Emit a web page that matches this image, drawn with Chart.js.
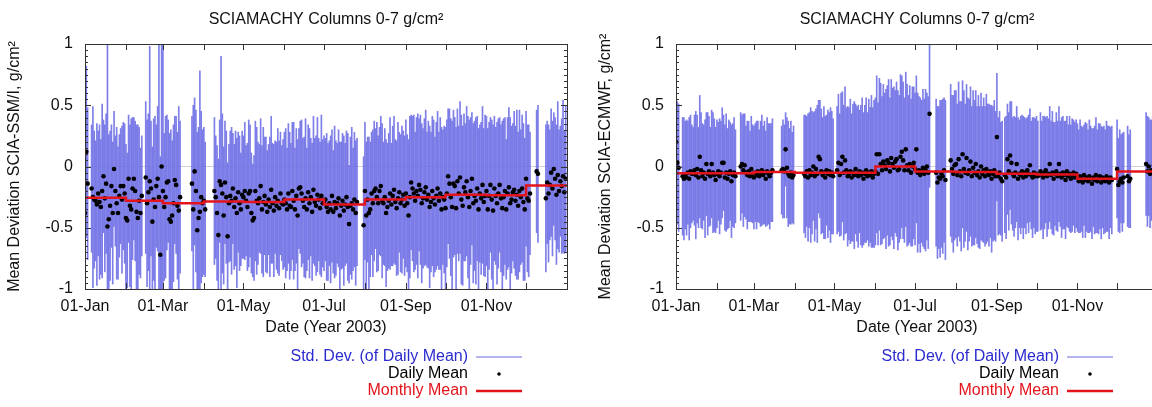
<!DOCTYPE html>
<html>
<head>
<meta charset="utf-8">
<script src="https://cdn.jsdelivr.net/npm/chart.js@4.4.1/dist/chart.umd.min.js"></script>
<style>
  html, body { margin: 0; padding: 0; background: #fff; overflow: hidden; }
  #wrap { position: relative; width: 1152px; height: 407px; overflow: hidden; }
  canvas { position: absolute; top: 0; }
  #left { left: 0; }
  #right { left: 591px; }
</style>
</head>
<body>
<div id="wrap">
  <canvas id="left" width="576" height="407"></canvas>
  <canvas id="right" width="576" height="407"></canvas>
</div>
<script>
// day-of-year (2003) where each month starts, and the labels shown under them
const monthStarts = [0, 31, 59, 90, 120, 151, 181, 212, 243, 273, 304, 334, 365];
const monthLabels = ['01-Jan', '', '01-Mar', '', '01-May', '', '01-Jul', '', '01-Sep', '', '01-Nov', '', ''];
const yTicks = [-1, -0.5, 0, 0.5, 1];

// SCIA - SSM/I, daily mean and std. dev. (one value per day, null = no data)
const meanSSMI = [
  -0.38, 0.12, -0.14, null, null, -0.18, -0.25, -0.27, -0.28, -0.31, -0.22, -0.29, -0.33, -0.2, -0.08, -0.26, -0.14, -0.49, -0.43, -0.32, -0.16, -0.38, -0.02, -0.2, -0.3, -0.38, -0.24, -0.16, -0.27, -0.16, -0.22,
  -0.42, -0.44, -0.1, -0.32, -0.35, -0.18, -0.1, -0.2, -0.37, -0.42, -0.28, -0.38, -0.24, null, null, -0.09, -0.3, -0.21, -0.12, -0.18, -0.45, -0.27, -0.33, -0.16, -0.1, -0.25, -0.72, 0.0,
  -0.2, -0.33, -0.25, -0.13, -0.12, -0.43, -0.45, -0.4, -0.3, -0.11, -0.15, -0.32, -0.36, -0.25, null, null, null, null, null, null, null, null, -0.14, -0.35, -0.04, -0.2, -0.52, -0.42, -0.37, -0.25, -0.3,
  -0.28, -0.35, null, null, null, null, null, null, -0.2, -0.25, -0.38, -0.56, -0.12, -0.15, -0.22, -0.4, -0.13, -0.25, -0.57, -0.3, -0.24, -0.28, -0.18, -0.33, -0.26, -0.38, -0.21, -0.3, -0.35, -0.23,
  -0.25, -0.2, -0.28, -0.33, -0.22, -0.2, -0.38, -0.44, -0.42, -0.2, -0.28, -0.3, -0.26, -0.16, -0.35, -0.29, -0.24, -0.31, -0.37, -0.27, -0.33, -0.19, -0.3, -0.36, -0.25, -0.32, -0.28, -0.34, -0.22, -0.3, -0.31,
  -0.27, -0.3, -0.35, -0.22, -0.32, -0.33, -0.2, -0.28, -0.35, -0.24, -0.4, -0.18, -0.17, -0.22, -0.28, -0.33, -0.26, -0.35, -0.21, -0.3, -0.25, -0.37, -0.19, -0.29, -0.32, -0.23, -0.27, -0.34, -0.24, -0.3,
  -0.3, -0.27, -0.33, -0.37, -0.3, -0.35, -0.24, -0.37, -0.29, -0.34, -0.3, -0.26, -0.4, -0.32, -0.28, -0.36, -0.31, -0.25, -0.33, -0.47, -0.32, -0.3, -0.35, -0.27, -0.38, -0.29, null, null, null, null, -0.48,
  -0.2, -0.4, -0.27, -0.38, -0.35, -0.22, -0.3, -0.2, -0.18, -0.25, -0.3, -0.2, -0.16, -0.28, -0.3, -0.25, -0.38, -0.33, -0.28, -0.22, -0.31, -0.24, -0.19, -0.29, -0.34, -0.26, -0.21, -0.3, -0.27, -0.23, -0.32,
  -0.22, -0.3, -0.4, -0.25, -0.13, -0.18, -0.22, -0.28, -0.2, -0.24, -0.15, -0.19, -0.3, -0.26, -0.21, -0.17, -0.27, -0.23, -0.33, -0.29, -0.2, -0.26, -0.31, -0.24, -0.18, -0.28, -0.22, -0.35, -0.25, -0.27,
  -0.34, -0.22, -0.08, -0.14, -0.25, -0.33, -0.14, -0.16, -0.34, -0.12, -0.22, -0.09, -0.27, -0.32, -0.17, -0.21, -0.12, -0.25, -0.33, -0.2, -0.1, -0.3, -0.24, -0.28, -0.18, -0.35, -0.22, -0.26, -0.15, -0.29, -0.24,
  -0.2, -0.35, -0.24, -0.15, -0.27, -0.36, -0.18, -0.24, -0.3, -0.22, -0.15, -0.26, -0.34, -0.25, -0.2, -0.35, -0.22, -0.17, -0.3, -0.27, -0.21, -0.19, -0.28, -0.23, -0.32, -0.2, -0.25, -0.18, -0.29, -0.35,
  -0.1, -0.26, -0.28, -0.22, null, null, null, null, -0.04, -0.06, null, null, null, null, null, -0.26, -0.13, -0.22, -0.15, -0.05, -0.18, -0.02, -0.1, -0.23, -0.07, -0.2, -0.12, -0.16, -0.08, -0.21, -0.1
];
const sdSSMI = [
  0.95, 0.7, 0.62, null, null, 0.52, 0.74, 0.56, 0.49, 0.66, 0.51, 0.63, 0.55, 0.71, 0.46, 0.6, 0.57, 1.5, 0.69, 0.61, 0.5, 0.58, 0.47, 0.45, 0.62, 0.54, 0.5, 0.47, 0.6, 0.52, 0.57,
  0.6, 0.55, 0.52, 0.66, 0.74, 0.58, 0.5, 0.57, 0.71, 0.76, 0.6, 0.53, 0.49, null, null, 0.62, 0.68, 0.64, 1.1, 0.55, 0.61, 0.66, 0.74, 0.5, 0.59, 1.3, 0.8, 1.0,
  1.3, 0.6, 0.66, 0.55, 0.5, 0.7, 0.75, 0.61, 0.64, 0.52, 0.56, 0.6, 0.85, 0.62, null, null, null, null, null, null, null, null, 0.55, 0.85, 0.6, 0.66, 0.8, 0.74, 1.15, 0.7, 0.6,
  0.6, 0.55, null, null, null, null, null, null, 0.6, 0.5, 0.55, 0.62, 0.5, 1.05, 0.65, 0.56, 0.5, 0.54, 0.6, 0.48, 0.53, 0.6, 0.45, 0.51, 0.55, 0.61, 0.49, 0.55, 0.46, 0.52,
  0.5, 0.56, 0.45, 0.52, 0.6, 0.54, 0.49, 0.46, 0.51, 0.57, 0.6, 0.5, 0.44, 0.55, 0.52, 0.61, 0.48, 0.55, 0.5, 0.45, 0.57, 0.6, 0.49, 0.54, 0.46, 0.52, 0.59, 0.55, 0.5, 0.47, 0.53,
  0.55, 0.61, 0.5, 0.57, 0.6, 0.52, 0.56, 0.64, 0.5, 0.55, 0.62, 0.49, 0.54, 0.6, 0.51, 0.57, 0.65, 0.5, 0.55, 0.61, 0.48, 0.56, 0.6, 0.52, 0.57, 0.63, 0.5, 0.54, 0.66, 0.52,
  0.55, 0.5, 0.6, 0.56, 0.51, 0.6, 0.54, 0.5, 0.62, 0.55, 0.49, 0.56, 0.6, 0.52, 0.55, 0.61, 0.5, 0.54, 0.6, 0.48, 0.56, 0.62, 0.5, 0.55, 0.59, 0.52, null, null, null, null, 0.56,
  0.56, 0.6, 0.51, 0.62, 0.55, 0.5, 0.6, 0.57, 0.49, 0.61, 0.55, 0.52, 0.57, 0.63, 0.5, 0.56, 0.6, 0.52, 0.55, 0.62, 0.5, 0.57, 0.6, 0.51, 0.55, 0.62, 0.49, 0.56, 0.6, 0.52, 0.57,
  0.6, 0.56, 0.62, 0.66, 0.55, 0.59, 0.64, 0.56, 0.6, 0.67, 0.54, 0.61, 0.65, 0.57, 0.6, 0.63, 0.55, 0.6, 0.66, 0.57, 0.61, 0.64, 0.55, 0.6, 0.63, 0.56, 0.62, 0.67, 0.55, 0.6,
  0.66, 0.6, 0.55, 0.61, 0.64, 0.7, 0.6, 0.56, 0.66, 0.59, 0.55, 0.62, 0.69, 0.65, 0.6, 0.56, 0.61, 0.66, 0.71, 0.6, 0.54, 0.65, 0.61, 0.68, 0.59, 0.66, 0.56, 0.62, 0.64, 0.6, 0.66,
  0.61, 0.66, 0.6, 0.55, 0.65, 0.7, 0.59, 0.56, 0.66, 0.61, 0.55, 0.6, 0.71, 0.64, 0.6, 0.57, 0.62, 0.65, 0.7, 0.6, 0.56, 0.64, 0.61, 0.69, 0.6, 0.66, 0.55, 0.6, 0.64, 0.58,
  0.55, 0.6, 0.62, 0.5, null, null, null, null, 0.5, 0.56, null, null, null, null, null, 0.6, 0.5, 0.56, 0.45, 0.52, 0.55, 0.46, 0.5, 0.57, 0.6, 0.5, 0.45, 0.55, 0.62, 0.5, 0.6
];
const monthlySSMI = [-0.255, -0.28, -0.3, -0.285, -0.29, -0.27, -0.31, -0.27, -0.25, -0.23, -0.235, -0.155];

// SCIA - ECMWF, daily mean and std. dev.
const meanECMWF = [
  0.2, 0.03, -0.01, null, null, -0.08, -0.1, -0.07, -0.09, -0.05, -0.1, -0.04, -0.06, -0.06, -0.03, -0.07, -0.02, -0.09, 0.08, -0.03, -0.08, -0.05, -0.1, 0.02, -0.06, -0.04, -0.08, 0.02, -0.05, -0.07, -0.11,
  -0.06, -0.04, -0.08, -0.05, 0.03, 0.03, -0.09, -0.05, -0.1, -0.06, -0.04, -0.12, -0.07, -0.05, -0.08, null, null, null, 0.0, 0.02, -0.03, 0.01, -0.05, -0.07, -0.04, -0.08, -0.02, -0.06,
  -0.09, -0.05, -0.07, -0.04, -0.08, -0.06, -0.03, -0.07, -0.05, -0.1, -0.04, -0.06, -0.08, -0.05, -0.03, null, null, null, null, null, null, -0.03, -0.02, -0.04, 0.14, -0.01, -0.06, -0.08, -0.05, -0.09, -0.07,
  null, null, null, null, null, null, null, -0.06, -0.08, -0.04, -0.09, -0.03, -0.07, -0.05, 0.0, -0.08, -0.02, -0.06, 0.08, 0.06, -0.04, -0.07, -0.05, -0.09, -0.03, -0.06, -0.04, -0.07, -0.05, -0.08,
  null, null, -0.03, 0.03, -0.07, 0.02, 0.08, -0.05, 0.05, -0.03, -0.08, -0.06, -0.04, -0.09, -0.05, -0.07, -0.02, -0.06, -0.08, -0.04, -0.07, -0.05, -0.1, -0.06, -0.03, -0.08, -0.05, -0.07, -0.04, -0.09, -0.06,
  -0.04, 0.1, -0.06, 0.1, 0.02, -0.03, 0.04, 0.01, -0.02, 0.05, 0.03, -0.04, 0.07, 0.02, -0.01, 0.04, 0.06, -0.03, -0.02, 0.08, 0.12, 0.05, -0.03, 0.14, 0.01, -0.03, 0.02, -0.05, 0.0, 0.03,
  -0.02, 0.14, -0.05, -0.03, -0.07, -0.04, -0.01, -0.06, -0.03, 0.0, -0.05, 0.43, null, null, null, null, -0.05, -0.13, -0.09, -0.1, -0.06, -0.08, -0.03, -0.11, null, null, null, 0.05, -0.02, -0.06, 0.01,
  0.02, -0.07, 0.06, -0.04, -0.08, 0.1, -0.02, -0.05, 0.07, -0.06, -0.03, 0.04, -0.08, -0.01, -0.05, 0.02, -0.07, -0.04, -0.09, 0.0, -0.06, -0.03, -0.08, -0.02, -0.05, -0.07, -0.04, -0.1, -0.06, -0.03, -0.08,
  0.24, -0.08, -0.05, -0.1, -0.12, null, -0.07, -0.09, 0.06, -0.04, 0.09, 0.03, -0.06, -0.08, -0.05, 0.02, -0.1, -0.06, -0.07, -0.04, -0.09, -0.05, -0.08, -0.03, -0.06, 0.01, -0.07, -0.09, -0.05, -0.08,
  -0.06, -0.08, null, -0.04, -0.07, -0.09, -0.05, -0.03, -0.08, -0.06, 0.02, -0.07, -0.05, -0.1, -0.06, -0.04, -0.08, 0.02, -0.06, -0.09, -0.05, -0.07, -0.11, -0.04, -0.08, -0.06, -0.1, -0.07, -0.05, -0.09, -0.06,
  -0.09, -0.12, -0.08, -0.1, -0.13, -0.07, -0.11, -0.09, -0.12, -0.08, -0.1, -0.14, -0.09, -0.11, -0.07, -0.12, -0.1, -0.08, -0.13, -0.09, -0.11, -0.12, -0.08, -0.1, -0.13, -0.09, -0.11, null, null, null,
  -0.02, -0.15, -0.12, -0.1, -0.13, -0.09, null, null, -0.08, -0.12, -0.1, null, null, null, null, null, null, null, null, null, null, null, 0.02, -0.04, 0.0, -0.06, -0.03, -0.05, 0.01, -0.04, -0.02
];
const sdECMWF = [
  0.3, 0.5, 0.52, null, null, 0.48, 0.5, 0.44, 0.47, 0.42, 0.5, 0.46, 0.4, 0.38, 0.45, 0.52, 0.44, 0.41, 0.5, 0.47, 0.43, 0.39, 0.48, 0.42, 0.5, 0.45, 0.4, 0.44, 0.49, 0.46, 0.43,
  0.44, 0.4, 0.47, 0.42, 0.45, 0.39, 0.43, 0.48, 0.41, 0.44, 0.4, 0.46, 0.42, 0.45, 0.38, null, null, null, 0.44, 0.4, 0.46, 0.42, 0.38, 0.44, 0.41, 0.37, 0.43, 0.4,
  0.42, 0.4, 0.44, 0.41, 0.38, 0.43, 0.45, 0.4, 0.42, 0.39, 0.44, 0.41, 0.43, 0.4, 0.42, null, null, null, null, null, null, 0.36, 0.4, 0.38, 0.3, 0.41, 0.43, 0.39, 0.42, 0.37, 0.4,
  null, null, null, null, null, null, null, 0.48, 0.5, 0.45, 0.52, 0.47, 0.55, 0.5, 0.44, 0.53, 0.49, 0.56, 0.46, 0.48, 0.51, 0.47, 0.54, 0.5, 0.45, 0.52, 0.48, 0.55, 0.5, 0.47,
  null, null, 0.52, 0.56, 0.5, 0.58, 0.53, 0.55, 0.6, 0.51, 0.57, 0.54, 0.59, 0.52, 0.56, 0.6, 0.53, 0.55, 0.58, 0.5, 0.57, 0.61, 0.54, 0.56, 0.59, 0.52, 0.6, 0.55, 0.62, 0.57, 0.6,
  0.6, 0.64, 0.58, 0.62, 0.66, 0.6, 0.63, 0.59, 0.65, 0.61, 0.68, 0.6, 0.64, 0.62, 0.66, 0.58, 0.63, 0.65, 0.6, 0.67, 0.62, 0.64, 0.59, 0.63, 0.66, 0.61, 0.64, 0.6, 0.65, 0.62,
  0.62, 0.6, 0.65, 0.6, 0.63, 0.58, 0.64, 0.61, 0.66, 0.6, 0.62, 0.6, null, null, null, null, 0.6, 0.62, 0.58, 0.64, 0.6, 0.63, 0.59, 0.65, null, null, null, 0.62, 0.6, 0.64, 0.61,
  0.6, 0.58, 0.63, 0.57, 0.61, 0.6, 0.64, 0.56, 0.6, 0.62, 0.58, 0.61, 0.57, 0.63, 0.59, 0.6, 0.56, 0.62, 0.58, 0.6, 0.55, 0.59, 0.57, 0.61, 0.56, 0.58, 0.54, 0.6, 0.55, 0.57, 0.53,
  0.52, 0.48, 0.5, 0.46, 0.49, null, 0.47, 0.5, 0.45, 0.48, 0.44, 0.5, 0.46, 0.49, 0.45, 0.47, 0.5, 0.44, 0.48, 0.46, 0.5, 0.45, 0.47, 0.43, 0.48, 0.46, 0.44, 0.49, 0.45, 0.47,
  0.47, 0.45, null, 0.48, 0.44, 0.5, 0.46, 0.43, 0.49, 0.45, 0.47, 0.44, 0.5, 0.46, 0.42, 0.48, 0.45, 0.47, 0.43, 0.49, 0.46, 0.44, 0.48, 0.45, 0.42, 0.47, 0.44, 0.46, 0.43, 0.45, 0.44,
  0.44, 0.42, 0.46, 0.43, 0.45, 0.41, 0.47, 0.44, 0.42, 0.46, 0.43, 0.45, 0.4, 0.44, 0.47, 0.42, 0.45, 0.43, 0.46, 0.41, 0.44, 0.42, 0.45, 0.43, 0.46, 0.41, 0.44, null, null, null,
  0.4, 0.38, 0.42, 0.36, 0.4, 0.37, null, null, 0.41, 0.38, 0.4, null, null, null, null, null, null, null, null, null, null, null, 0.42, 0.45, 0.4, 0.44, 0.41, 0.46, 0.43, 0.4, 0.44
];
const monthlyECMWF = [-0.055, -0.055, -0.045, -0.05, -0.05, 0.0, -0.04, -0.045, -0.06, -0.065, -0.1, -0.04];

const FONT = "'Liberation Sans', Arial, Helvetica, sans-serif";
const TEXT = '#111';

// gnuplot style box: frame plus inward ticks on all four sides
const gnuplotFrame = {
  id: 'gnuplotFrame',
  afterDatasetsDraw(chart) {
    const { ctx, chartArea: a, scales: { x, y } } = chart;
    ctx.save();
    ctx.strokeStyle = '#333';
    ctx.lineWidth = 1;
    ctx.beginPath();
    for (let k = -20; k <= 20; k++) {
      const py = Math.round(y.getPixelForValue(k / 20)) + 0.5;
      const len = k % 10 === 0 ? 6 : 3;
      ctx.moveTo(a.left, py); ctx.lineTo(a.left + len, py);
      ctx.moveTo(a.right, py); ctx.lineTo(a.right - len, py);
    }
    x.ticks.forEach(t => {
      const px = Math.round(x.getPixelForValue(t.value)) + 0.5;
      ctx.moveTo(px, a.top); ctx.lineTo(px, a.top + 6);
      ctx.moveTo(px, a.bottom); ctx.lineTo(px, a.bottom - 6);
    });
    ctx.stroke();
    ctx.strokeRect(Math.round(a.left) + 0.5, Math.round(a.top) + 0.5, Math.round(a.right - a.left), Math.round(a.bottom - a.top));
    ctx.restore();
  }
};

// legend under the plot: right aligned text with the sample to its right
const keyBelow = {
  id: 'keyBelow',
  afterDraw(chart, args, opts) {
    const { ctx } = chart;
    ctx.save();
    ctx.font = `16px ${FONT}`;
    ctx.textAlign = 'right';
    ctx.textBaseline = 'middle';
    chart.data.datasets.forEach((ds, i) => {
      const yy = opts.top + i * opts.rowHeight;
      ctx.fillStyle = ds.keyColor;
      ctx.fillText(ds.label, opts.textRight, yy);
      const x0 = opts.sampleLeft, x1 = opts.sampleRight;
      if (ds.keyStyle === 'dot') {
        ctx.fillStyle = '#000';
        ctx.beginPath();
        ctx.arc((x0 + x1) / 2, yy, 1.8, 0, Math.PI * 2);
        ctx.fill();
      } else {
        ctx.strokeStyle = ds.keyLine;
        ctx.lineWidth = ds.keyWidth;
        ctx.beginPath();
        ctx.moveTo(x0, yy); ctx.lineTo(x1, yy);
        ctx.stroke();
      }
    });
    ctx.restore();
  }
};

function makePanel(canvasId, yTitle, means, sds, monthly) {
  const bars = [];
  const dots = [];
  means.forEach((m, d) => {
    if (m === null) return;
    bars.push({ x: d, y: [m - sds[d], m + sds[d]] });
    dots.push({ x: d, y: m });
  });
  const steps = monthly.map((v, i) => ({ x: monthStarts[i], y: v }));
  steps.push({ x: 365, y: monthly[monthly.length - 1] });

  return new Chart(document.getElementById(canvasId), {
    type: 'bar',
    data: {
      datasets: [
        {
          type: 'bar',
          label: 'Std. Dev. (of Daily Mean)',
          data: bars,
          backgroundColor: 'rgba(112, 112, 230, 0.9)',
          borderWidth: 0,
          barThickness: 1,
          grouped: false,
          clip: 0,
          order: 3,
          keyColor: '#2b2bd0', keyLine: '#9d9de8', keyWidth: 1.5
        },
        {
          type: 'line',
          label: 'Daily Mean',
          data: dots,
          showLine: false,
          pointRadius: 2.3,
          pointBackgroundColor: '#000',
          pointBorderWidth: 0,
          order: 2,
          keyColor: '#000', keyStyle: 'dot'
        },
        {
          type: 'line',
          label: 'Monthly Mean',
          data: steps,
          stepped: true,
          borderColor: '#e3141c',
          borderWidth: 2.5,
          pointRadius: 0,
          order: 1,
          keyColor: '#e3141c', keyLine: '#e3141c', keyWidth: 2.5
        }
      ]
    },
    options: {
      responsive: false,
      animation: false,
      events: [],
      layout: { padding: { left: 0, right: 9, top: 0, bottom: 68 } },
      plugins: {
        legend: { display: false },
        tooltip: { enabled: false },
        title: {
          display: true,
          fullSize: false,
          text: 'SCIAMACHY Columns 0-7 g/cm²',
          color: TEXT,
          font: { family: FONT, size: 16, weight: 'normal', lineHeight: 1.2 },
          padding: { top: 10, bottom: 14.8 }
        },
        keyBelow: { top: 357, rowHeight: 17, textRight: 468, sampleLeft: 476, sampleRight: 522 }
      },
      scales: {
        x: {
          type: 'linear',
          min: 0,
          max: 365,
          offset: false,
          afterBuildTicks: s => { s.ticks = monthStarts.map(v => ({ value: v })); },
          afterFit: s => { s.height = 50; },
          grid: { display: false, drawTicks: false },
          border: { display: false },
          ticks: {
            autoSkip: false,
            maxRotation: 0,
            padding: 8,
            color: TEXT,
            font: { family: FONT, size: 16 },
            callback: (v, i) => monthLabels[i]
          },
          title: {
            display: true,
            text: 'Date (Year 2003)',
            color: TEXT,
            font: { family: FONT, size: 16 },
            padding: { top: 0, bottom: 2 }
          }
        },
        y: {
          min: -1,
          max: 1,
          afterBuildTicks: s => { s.ticks = yTicks.map(v => ({ value: v })); },
          afterFit: s => { s.width = 85; },
          grid: {
            drawTicks: false,
            color: c => (c.tick && c.tick.value === 0 ? '#d0d0d0' : 'rgba(0,0,0,0)')
          },
          border: { display: false },
          ticks: {
            padding: 12,
            color: TEXT,
            font: { family: FONT, size: 16 },
            callback: v => String(v)
          },
          title: {
            display: true,
            text: yTitle,
            color: TEXT,
            font: { family: FONT, size: 16 },
            padding: { top: 5, bottom: 0 }
          }
        }
      }
    },
    plugins: [gnuplotFrame, keyBelow]
  });
}

makePanel('left', 'Mean Deviation SCIA-SSM/I, g/cm²', meanSSMI, sdSSMI, monthlySSMI);
makePanel('right', 'Mean Deviation SCIA-ECMWF, g/cm²', meanECMWF, sdECMWF, monthlyECMWF);
</script>
</body>
</html>
